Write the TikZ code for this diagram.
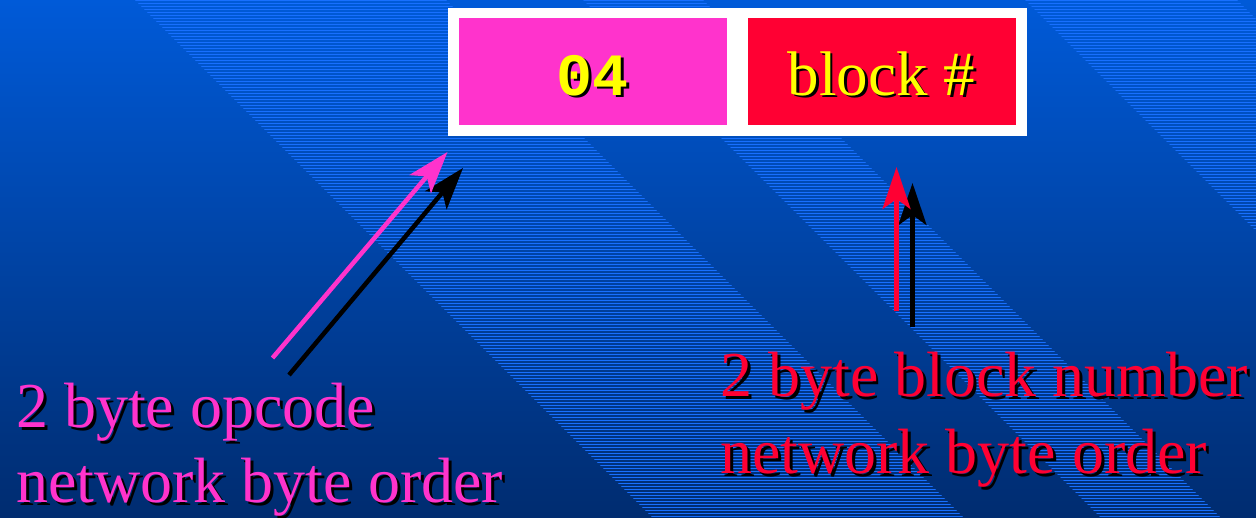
\documentclass[tikz,border=0pt]{standalone}
\usepackage{fontspec}
\setmainfont{Liberation Serif}
\newfontfamily\monob{Liberation Mono}
\usetikzlibrary{arrows.meta}
\definecolor{bgtop}{RGB}{0,90,216}
\definecolor{bgbot}{RGB}{0,44,112}
\definecolor{hatchc}{RGB}{24,112,255}
\definecolor{opmag}{RGB}{255,51,204}
\definecolor{blkred}{RGB}{255,0,51}
\definecolor{yel}{RGB}{255,255,0}
\newcommand{\shtext}[3][3pt]{\leavevmode\rlap{\kern#1\raisebox{-#1}{\color{black}#3}}{\color{#2}#3}}
\tikzset{
  hatch/.style={draw=hatchc, line width=1pt},
  field/.style={minimum width=268pt, minimum height=107pt, inner sep=0pt, text height=47pt, text depth=0pt},
  arr/.style={line width=4.5pt, -{Stealth[length=42pt,width=28pt,inset=10pt]}},
  lab/.style={anchor=base west, inner sep=0pt}
}
\begin{document}
\begin{tikzpicture}[x=1pt,y=-1pt]
\useasboundingbox (0,0) rectangle (1256,517);
\shade[top color=bgtop, bottom color=bgbot] (0,0) rectangle (1256,517);
\begin{scope}
\clip (135,0)--(446,0)--(963,517)--(652,517)--cycle
      (583,0)--(703,0)--(1220,517)--(1100,517)--cycle
      (1025,0)--(1237,0)--(1754,517)--(1542,517)--cycle;
\foreach \k in {0,...,172} \draw[hatch] (0,{3*\k+0.5}) -- (1256,{3*\k+0.5});
\end{scope}

\node[fill=white, minimum width=579pt, minimum height=128pt, inner sep=0pt] (frame) at (737.5,72) {};
\node[field, fill=opmag] (op) at (592.5,71.5) {\fontsize{60}{60}\selectfont\monob\bfseries\shtext[2.5pt]{yel}{04}};
\node[field, fill=blkred] (blk) at (881.5,71.5) {\fontsize{63}{63}\selectfont\shtext[2.5pt]{yel}{block \#}};

\node[lab] (oplab) at (16,427) {\vtop{\fontsize{64}{75}\selectfont\hbox{\shtext{opmag}{2 byte opcode}}\hbox{\shtext{opmag}{network byte order}}}};
\node[lab] (blklab) at (720,396) {\vtop{\fontsize{64}{77}\selectfont\hbox{\shtext{blkred}{2 byte block number}}\hbox{\shtext{blkred}{network byte order}}}};

\coordinate (opT1) at (272.5,358);
\coordinate (opH1) at (447.5,152);
\coordinate (opT2) at (289,375);
\coordinate (opH2) at (463,168);
\coordinate (bkT1) at (896.5,311);
\coordinate (bkH1) at (896.5,167);
\coordinate (bkT2) at (912.5,327);
\coordinate (bkH2) at (912.5,183);

\draw[arr, black] (opT2) -- (opH2);
\draw[arr, opmag] (opT1) -- (opH1);
\draw[arr, black] (bkT2) -- (bkH2);
\draw[arr, blkred] (bkT1) -- (bkH1);
\end{tikzpicture}
\end{document}
